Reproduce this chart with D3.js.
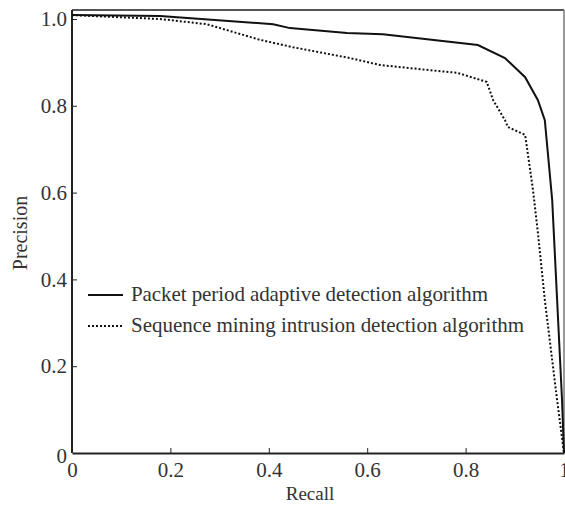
<!DOCTYPE html>
<html>
<head>
<meta charset="utf-8">
<script src="https://cdn.jsdelivr.net/npm/d3@7"></script>
<style>
  body { margin: 0; background: #fff; }
  svg text { font-family: "Liberation Serif", "Times New Roman", serif; fill: #333; }
</style>
</head>
<body>
<div id="chart"></div>
<script>
// series values (recall, precision)
const packetRecall    = [0, 0.179, 0.409, 0.443, 0.559, 0.632, 0.825, 0.880, 0.921, 0.947, 0.961, 0.976, 0.986, 0.996, 1.0];
const packetPrecision = [1.009, 1.007, 0.988, 0.979, 0.968, 0.965, 0.940, 0.910, 0.866, 0.813, 0.767, 0.583, 0.353, 0.122, 0];

const seqRecall    = [0, 0.179, 0.274, 0.382, 0.449, 0.565, 0.626, 0.728, 0.783, 0.843, 0.856, 0.880, 0.886, 0.921, 0.937, 0.947, 0.961, 0.976, 0.986, 1.0];
const seqPrecision = [1.009, 1.0, 0.988, 0.952, 0.935, 0.910, 0.894, 0.882, 0.876, 0.855, 0.813, 0.767, 0.751, 0.733, 0.606, 0.507, 0.353, 0.214, 0.122, 0];

const xTicks = [0, 0.2, 0.4, 0.6, 0.8, 1];
const yTicks = [0, 0.2, 0.4, 0.6, 0.8, 1.0];
const legendLabels = ['Packet period adaptive detection algorithm', 'Sequence mining intrusion detection algorithm'];

const width = 565, height = 511;
const margin = { top: 10, right: 1, bottom: 58, left: 72 };

const svg = d3.select('#chart').append('svg')
    .attr('width', width)
    .attr('height', height);

const x = d3.scaleLinear().domain([0, 1]).range([margin.left, width - margin.right]);
const y = d3.scaleLinear().domain([0, 1]).range([453, 19]);

// frame: top and right thinner
svg.append('line')
    .attr('x1', margin.left).attr('x2', width - margin.right)
    .attr('y1', margin.top).attr('y2', margin.top)
    .attr('stroke', '#555').attr('stroke-width', 2);
svg.append('line')
    .attr('x1', width - margin.right).attr('x2', width - margin.right)
    .attr('y1', margin.top).attr('y2', y(0))
    .attr('stroke', '#777').attr('stroke-width', 1.5);

// x axis
const xAxis = svg.append('g')
    .attr('transform', `translate(0,${y(0)})`)
    .call(d3.axisBottom(x).tickValues(xTicks).tickSizeInner(-5).tickSizeOuter(0)
        .tickFormat(d => d === 0 ? '0' : d === 1 ? '1' : d3.format('.1f')(d)));
xAxis.select('.domain').attr('stroke', '#222').attr('stroke-width', 2);
xAxis.selectAll('.tick line').attr('stroke', '#222');
xAxis.selectAll('.tick text').attr('dy', '1.0em').attr('y', 3)
    .attr('font-size', null).style('font-size', '21px');
xAxis.selectAll('.tick').filter(d => d === 0 || d === 1).select('line').remove();

// y axis
const yAxis = svg.append('g')
    .attr('transform', `translate(${margin.left},0)`)
    .call(d3.axisLeft(y).tickValues(yTicks).tickSizeInner(-5).tickSizeOuter(0)
        .tickFormat(d => d === 0 ? '0' : d3.format('.1f')(d)));
yAxis.select('.domain').attr('stroke', '#222').attr('stroke-width', 2)
    .attr('d', `M0,${y(0)}V${margin.top}`);
yAxis.selectAll('.tick line').attr('stroke', '#222');
yAxis.selectAll('.tick text').attr('x', -5).style('font-size', '21px');
yAxis.selectAll('.tick').filter(d => d === 0).select('text').attr('dy', '0.45em');
yAxis.selectAll('.tick').filter(d => d === 0).select('line').remove();
// small inward tick marks
yAxis.selectAll('.tick line').attr('x1', 0).attr('x2', 5);

// axis titles
svg.append('text')
    .attr('x', 310).attr('y', 500)
    .attr('text-anchor', 'middle')
    .style('font-size', '19px')
    .text('Recall');
svg.append('text')
    .attr('transform', 'translate(27,233) rotate(-90)')
    .attr('text-anchor', 'middle')
    .style('font-size', '20px')
    .text('Precision');

// lines
const line = d3.line().x(d => x(d[0])).y(d => y(d[1]));
const packetData = packetRecall.map((r, i) => [r, packetPrecision[i]]);
const seqData = seqRecall.map((r, i) => [r, seqPrecision[i]]);

svg.append('path')
    .attr('d', line(packetData))
    .attr('fill', 'none')
    .attr('stroke', '#111')
    .attr('stroke-width', 2);

svg.append('path')
    .attr('d', line(seqData))
    .attr('fill', 'none')
    .attr('stroke', '#111')
    .attr('stroke-width', 2)
    .attr('stroke-dasharray', '2,2');

// legend
const legend = svg.append('g');
legendLabels.forEach((label, i) => {
    const ly = 295 + i * 31;
    legend.append('line')
        .attr('x1', 88).attr('x2', 123)
        .attr('y1', ly).attr('y2', ly)
        .attr('stroke', '#111')
        .attr('stroke-width', 2)
        .attr('stroke-dasharray', i === 1 ? '2,2' : null);
    legend.append('text')
        .attr('x', 131).attr('y', ly + 6)
        .style('font-size', '21px')
        .attr('textLength', i === 0 ? 357 : 393)
        .attr('lengthAdjust', 'spacing')
        .text(label);
});
</script>
</body>
</html>
